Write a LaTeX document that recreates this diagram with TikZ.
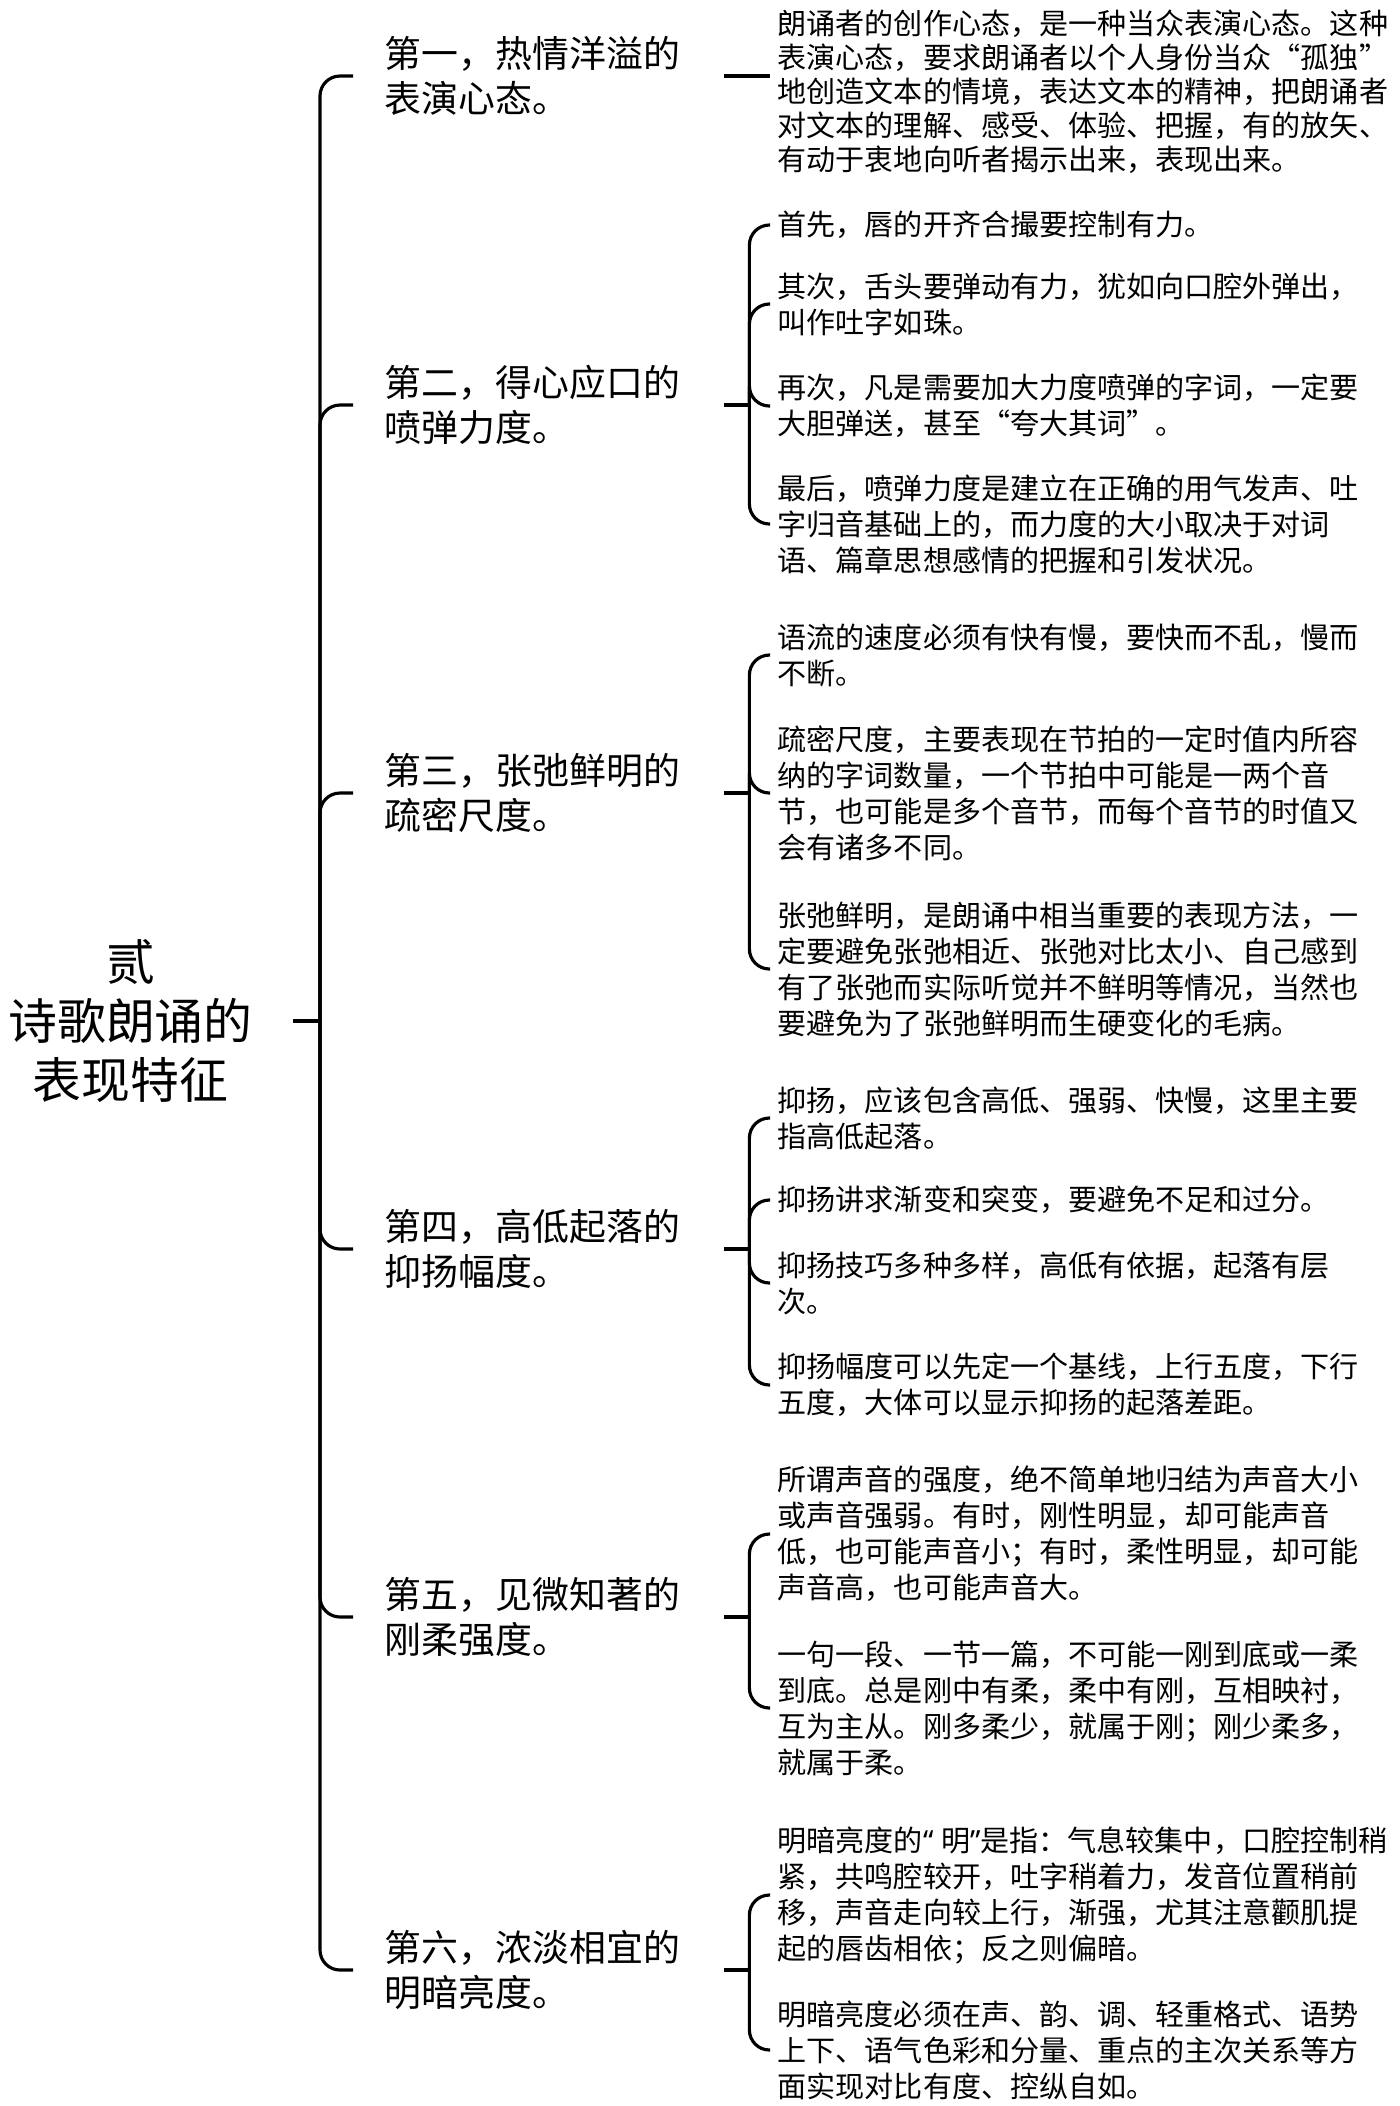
\documentclass[tikz,border=0pt]{standalone}
\usepackage{fontspec}
\setmainfont{Noto Sans CJK SC}
\newfontfamily\quotefont{Noto Sans}

\begin{document}
\begin{tikzpicture}[
            root/.style={align=center, inner xsep=0.4cm, inner ysep=0pt, font=\fontsize{13.9}{16.8}\selectfont},
            branch/.style={anchor=west, align=left, text width=3.08cm, inner xsep=0.31cm, inner ysep=0pt, font=\fontsize{10.5}{12.8}\selectfont},
            leaf/.style={anchor=west, align=left, inner xsep=0.07cm, inner ysep=0pt, font=\fontsize{8.27}{10.24}\selectfont},
            link/.style={draw=black, line width=0.9pt, rounded corners=0.2cm},
        ]
            \useasboundingbox (0,0) rectangle (14,-21.06);

            % root and the six branches
            \node(rootnode) at (1.305,-10.21) [root] {贰\\诗歌朗诵的\\表现特征};
            \coordinate (rootjoin) at (3.20,-10.21);
            \node(first) at (3.53,-0.76) [branch] {第一，热情洋溢的\\表演心态。};
            \node(second) at (3.53,-4.05) [branch] {第二，得心应口的\\喷弹力度。};
            \node(third) at (3.53,-7.93) [branch] {第三，张弛鲜明的\\疏密尺度。};
            \node(fourth) at (3.53,-12.49) [branch] {第四，高低起落的\\抑扬幅度。};
            \node(fifth) at (3.53,-16.17) [branch] {第五，见微知著的\\刚柔强度。};
            \node(sixth) at (3.53,-19.70) [branch] {第六，浓淡相宜的\\明暗亮度。};

            % leaves
            \node(firstA) at (7.70,-0.92) [leaf, font=\fontsize{8.27}{9.65}\selectfont] {朗诵者的创作心态，是一种当众表演心态。这种\\表演心态，要求朗诵者以个人身份当众“孤独”\\地创造文本的情境，表达文本的精神，把朗诵者\\对文本的理解、感受、体验、把握，有的放矢、\\有动于衷地向听者揭示出来，表现出来。};
            \node(secondA) at (7.70,-2.25) [leaf] {首先，唇的开齐合撮要控制有力。};
            \node(secondB) at (7.70,-3.04) [leaf] {其次，舌头要弹动有力，犹如向口腔外弹出，\\叫作吐字如珠。};
            \node(secondC) at (7.70,-4.06) [leaf] {再次，凡是需要加大力度喷弹的字词，一定要\\大胆弹送，甚至“夸大其词”。};
            \node(secondD) at (7.70,-5.24) [leaf] {最后，喷弹力度是建立在正确的用气发声、吐\\字归音基础上的，而力度的大小取决于对词\\语、篇章思想感情的把握和引发状况。};
            \node(thirdA) at (7.70,-6.55) [leaf] {语流的速度必须有快有慢，要快而不乱，慢而\\不断。};
            \node(thirdB) at (7.70,-7.93) [leaf] {疏密尺度，主要表现在节拍的一定时值内所容\\纳的字词数量，一个节拍中可能是一两个音\\节，也可能是多个音节，而每个音节的时值又\\会有诸多不同。};
            \node(thirdC) at (7.70,-9.69) [leaf] {张弛鲜明，是朗诵中相当重要的表现方法，一\\定要避免张弛相近、张弛对比太小、自己感到\\有了张弛而实际听觉并不鲜明等情况，当然也\\要避免为了张弛鲜明而生硬变化的毛病。};
            \node(fourthA) at (7.70,-11.18) [leaf] {抑扬，应该包含高低、强弱、快慢，这里主要\\指高低起落。};
            \node(fourthB) at (7.70,-12.00) [leaf] {抑扬讲求渐变和突变，要避免不足和过分。};
            \node(fourthC) at (7.70,-12.83) [leaf] {抑扬技巧多种多样，高低有依据，起落有层\\次。};
            \node(fourthD) at (7.70,-13.85) [leaf] {抑扬幅度可以先定一个基线，上行五度，下行\\五度，大体可以显示抑扬的起落差距。};
            \node(fifthA) at (7.70,-15.34) [leaf] {所谓声音的强度，绝不简单地归结为声音大小\\或声音强弱。有时，刚性明显，却可能声音\\低，也可能声音小；有时，柔性明显，却可能\\声音高，也可能声音大。};
            \node(fifthB) at (7.70,-17.08) [leaf] {一句一段、一节一篇，不可能一刚到底或一柔\\到底。总是刚中有柔，柔中有刚，互相映衬，\\互为主从。刚多柔少，就属于刚；刚少柔多，\\就属于柔。};
            \node(sixthA) at (7.70,-18.95) [leaf] {明暗亮度的{\quotefont“ }明{\quotefont”}是指：气息较集中，口腔控制稍\\紧，共鸣腔较开，吐字稍着力，发音位置稍前\\移，声音走向较上行，渐强，尤其注意颧肌提\\起的唇齿相依；反之则偏暗。};
            \node(sixthB) at (7.70,-20.50) [leaf] {明暗亮度必须在声、韵、调、轻重格式、语势\\上下、语气色彩和分量、重点的主次关系等方\\面实现对比有度、控纵自如。};

            % connectors
            \draw[link] (rootnode.east) -- (rootjoin);
            \foreach \b in {first,second,third,fourth,fifth,sixth}
                \draw[link] (rootjoin) |- (\b.west);
            \draw[link] (first.east) -- (first.east -| firstA.west);
            \foreach \b/\leaves in {second/{secondA,secondB,secondC,secondD}, third/{thirdA,thirdB,thirdC}, fourth/{fourthA,fourthB,fourthC,fourthD}, fifth/{fifthA,fifthB}, sixth/{sixthA,sixthB}} {
                \coordinate (\b join) at ([xshift=0.25cm]\b.east);
                \draw[link] (\b.east) -- (\b join);
                \foreach \l in \leaves
                    \draw[link] (\b join) |- (\l.west);
            }
        \end{tikzpicture}
\end{document}
